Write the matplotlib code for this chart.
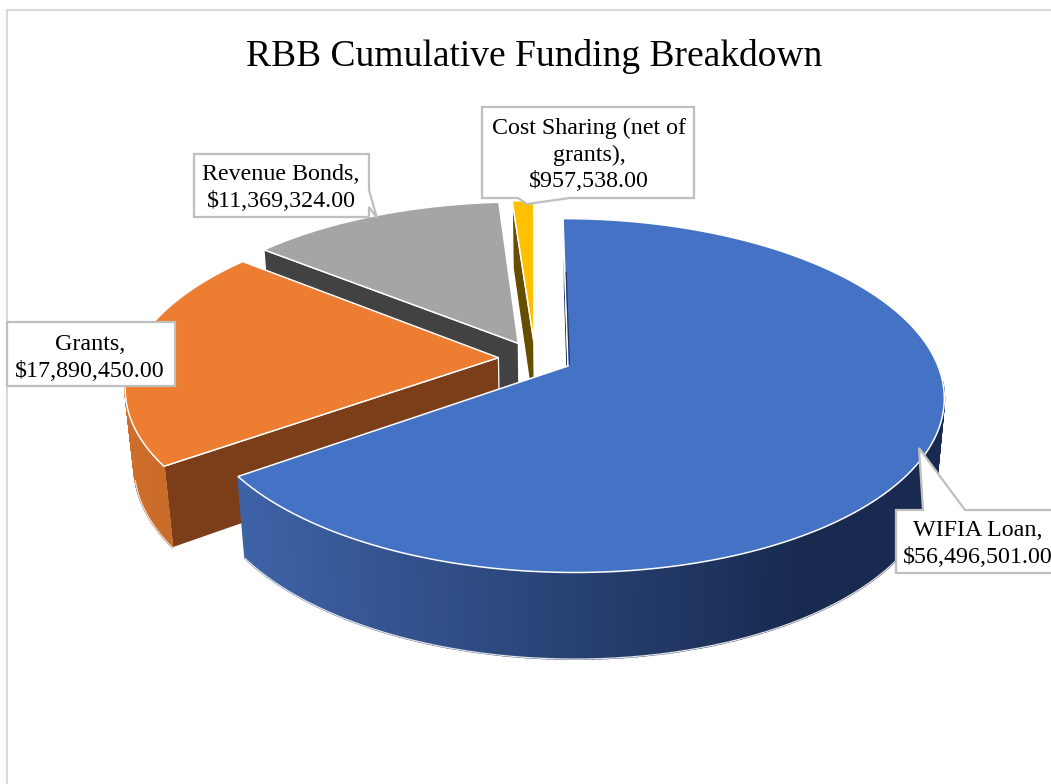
import numpy as np
import matplotlib
matplotlib.use('Agg')
import matplotlib.pyplot as plt
from matplotlib.patches import Polygon

# Funding amounts, clockwise from twelve o'clock
names = ['WIFIA Loan', 'Grants', 'Revenue Bonds', 'Cost Sharing (net of grants)']
values = [56496501.00, 17890450.00, 11369324.00, 957538.00]
labels = ['WIFIA Loan,\n$56,496,501.00', 'Grants,\n$17,890,450.00',
          'Revenue Bonds,\n$11,369,324.00', 'Cost Sharing (net of\ngrants),\n$957,538.00']

top_colors = ['#4472C4', '#ED7D31', '#A5A5A5', '#FFC000']
wall_colors = ['#1B2F57', '#7C3E18', '#424242', '#664D00']
side_left = ['#3E62A6', '#CE6E2B', '#6E6E6E', '#A87F00']
side_right = ['#182A50', '#BE6426', '#424242', '#664D00']

# view of the tilted disc, in pixels
CX, CY = 568, 366
A, B = 370, 172
SKEW = 5.8
PERSP = 0.167
DEPTH = 78
DEPTH_PERSP = 0.02
EXPLODE = 0.1


def project(u, v, z=0.0):
    w = 1 - PERSP * v + DEPTH_PERSP * z
    return CX + (A * u + SKEW * v) / w, CY + (B * v + DEPTH * z) / w


def direction(theta):
    return np.sin(theta), -np.cos(theta)


fig = plt.figure(figsize=(10.51, 7.84), dpi=100)
ax = fig.add_axes([0, 0, 1, 1])
ax.set_xlim(0, 1051)
ax.set_ylim(784, 0)
ax.axis('off')
plt.rcParams['font.family'] = ['Liberation Serif', 'DejaVu Serif']

# chart frame, only its top and left edges fall on the canvas
ax.plot([7, 7, 1051], [784, 10, 10], color='#D9D9D9', lw=1.5, zorder=1, solid_joinstyle='miter')

fractions = np.array(values) / sum(values)
ends = np.cumsum(fractions) * 2 * np.pi
starts = ends - fractions * 2 * np.pi
mids = (starts + ends) / 2
base_u, base_v = direction(mids[0])

# back slices first so the front ones paint over them
z = 2
for i in [3, 2, 1, 0]:
    du, dv = direction(mids[i])
    off_u = EXPLODE * (du - base_u)
    off_v = EXPLODE * (dv - base_v)
    theta = np.linspace(starts[i], ends[i], 240)
    local_u, local_v = direction(theta)
    ru = local_u + off_u
    rv = local_v + off_v

    # cut face on the leading edge, the trailing one faces away
    eu, ev = direction(starts[i])
    eu, ev = eu + off_u, ev + off_v
    x0, y0 = project(off_u, off_v)
    x1, y1 = project(eu, ev)
    x2, y2 = project(eu, ev, 1)
    x3, y3 = project(off_u, off_v, 1)
    ax.add_patch(Polygon([(x0, y0), (x1, y1), (x2, y2), (x3, y3)], closed=True,
                         facecolor=wall_colors[i], edgecolor='white', lw=0.9, zorder=z))
    z += 1

    # outer rim as shaded strips, front half only
    tx, ty = project(ru, rv)
    bx, by = project(ru, rv, 1)
    front = local_v > 0.08
    x_lo, x_hi = (245, 800) if i == 0 else (tx.min(), tx.max())
    c_l = np.array(matplotlib.colors.to_rgb(side_left[i]))
    c_r = np.array(matplotlib.colors.to_rgb(side_right[i]))
    for j in range(len(theta) - 1):
        if not front[j]:
            continue
        f = np.clip(((tx[j] + tx[j + 1]) / 2 - x_lo) / (x_hi - x_lo), 0, 1)
        col = c_l + (c_r - c_l) * f
        ax.add_patch(Polygon([(tx[j], ty[j]), (tx[j + 1], ty[j + 1]), (bx[j + 1], by[j + 1]), (bx[j], by[j])],
                             closed=True, facecolor=col, edgecolor=col, lw=1.2, zorder=z))
    z += 1
    rim = local_v > 0.25
    if rim.any():
        ax.plot(bx[rim], by[rim], color='#E4E4E4', lw=0.9, zorder=z)
    z += 1

    # top face
    ax0, ay0 = project(off_u, off_v)
    xs = np.concatenate([[ax0], tx])
    ys = np.concatenate([[ay0], ty])
    ax.add_patch(Polygon(np.column_stack([xs, ys]), closed=True, facecolor=top_colors[i],
                         edgecolor='white', lw=1.1, zorder=z, joinstyle='miter'))
    z += 1

# sliver of the big slice's cut face beside its straight edge
sx, sy = project(np.array([0.004, 0.004]), np.array([-0.6, -0.01]))
ax.plot(sx, sy, color=wall_colors[0], lw=0.8, zorder=z)
z += 1

# callout outlines, tail included
callouts = [
    [(896, 510), (923, 510), (919, 448), (965, 510), (1060, 510), (1060, 573), (896, 573)],
    [(7, 322), (175, 322), (175, 386), (7, 386)],
    [(194, 154), (369, 154), (369, 190), (377, 218), (369, 207), (369, 217), (194, 217)],
    [(482, 107), (694, 107), (694, 198), (570, 198), (527, 204), (518, 198), (482, 198)],
]
text_pos = [(978, 544), (90, 358), (281, 188), (589, 155)]

for outline, (tx, ty), label in zip(callouts, text_pos, labels):
    ax.add_patch(Polygon(outline, closed=True, facecolor='white', edgecolor='#BFBFBF',
                         lw=1.6, zorder=z, joinstyle='miter'))
    ax.text(tx, ty, label, ha='center', va='center', fontsize=17.3, color='black',
            linespacing=1.36, zorder=z + 1)

ax.text(534.5, 56, 'RBB Cumulative Funding Breakdown', ha='center', va='center',
        fontsize=27, color='black', zorder=z + 1)

fig.savefig('out.png', dpi=100)
